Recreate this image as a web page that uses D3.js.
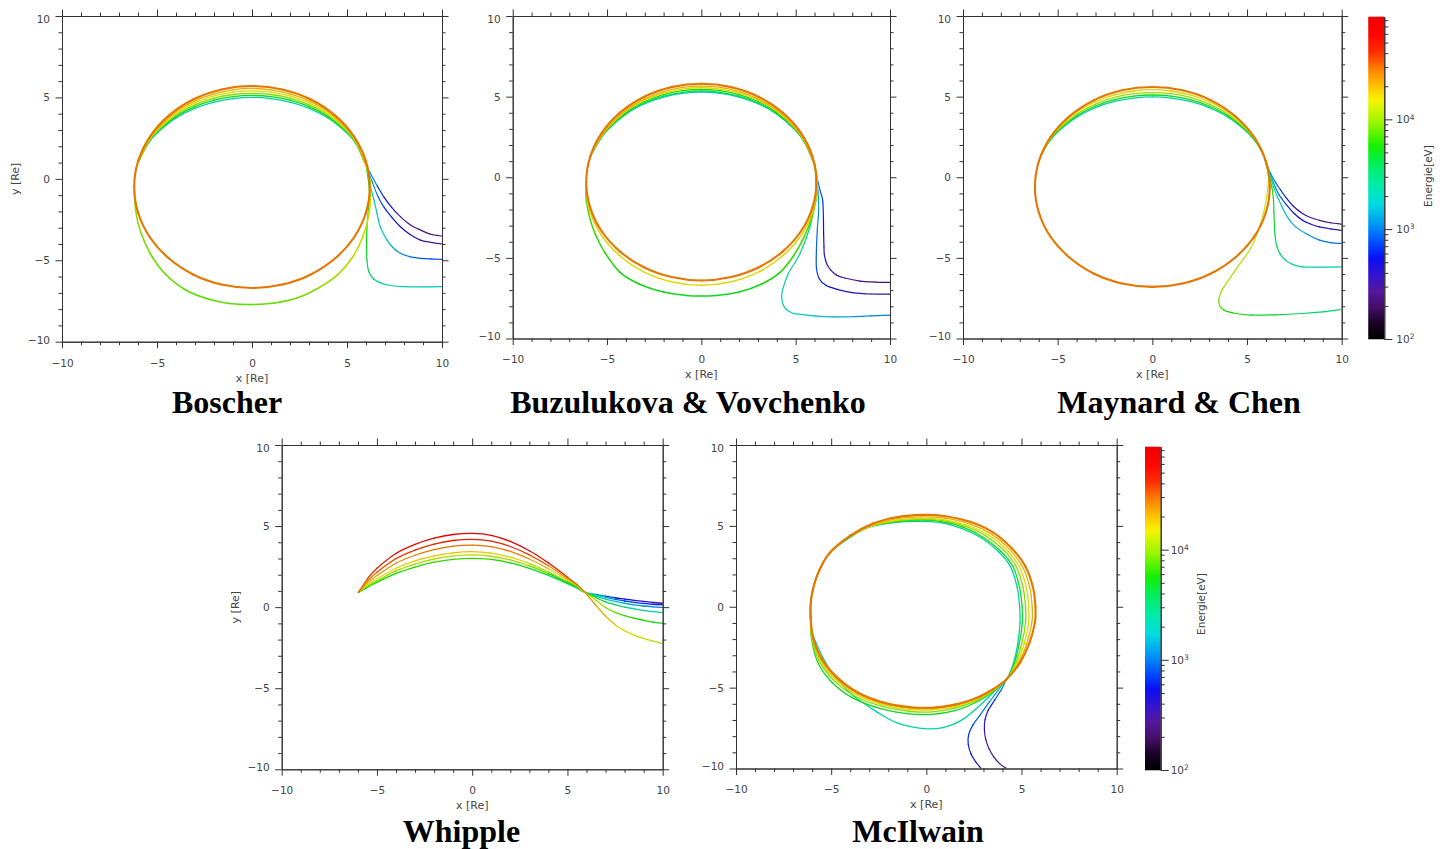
<!DOCTYPE html>
<html>
<head>
<meta charset="utf-8">
<script src="https://cdn.jsdelivr.net/npm/d3@7"></script>
<style>
  body { margin: 0; background: #fff; }
  svg { display: block; }
</style>
</head>
<body>
<svg id="fig" width="1445" height="849"></svg>
<script>
// ---------- shared axis values ----------
const majorTicks = [-10, -5, 0, 5, 10];
const minorTicks = [-9, -8, -7, -6, -4, -3, -2, -1, 1, 2, 3, 4, 6, 7, 8, 9];
const energyDecades = [100, 1000, 10000];
const energyMin = 100, energyMax = 86000;
const cmapStops  = [0, 0.05, 0.10, 0.15, 0.20, 0.25, 0.30, 0.36, 0.42, 0.48, 0.54, 0.60, 0.67, 0.74, 0.79, 0.84, 0.89, 0.94, 1.0];
const cmapColors = ['#000000', '#1c0428', '#46106a', '#5418a0', '#3414d0', '#0a10f4', '#0050ff', '#009cf4', '#00dce0',
                    '#00eca8', '#00ee60', '#18f000', '#98f600', '#f6f400', '#ffbc00', '#ff7c00', '#ff3000', '#ff0800', '#f00000'];

// ---------- Boscher ----------
const boscherLoop = [[6.20,-0.50],[5.99,1.10],[5.37,2.60],[4.38,3.88],[3.10,4.87],[1.60,5.49],[0,5.70],[-1.60,5.49],
  [-3.10,4.87],[-4.38,3.88],[-5.37,2.60],[-5.99,1.10],[-6.20,-0.50],[-5.99,-2.10],[-5.37,-3.60],[-4.38,-4.88],
  [-3.10,-5.87],[-1.60,-6.49],[0,-6.70],[1.60,-6.49],[3.10,-5.87],[4.38,-4.88],[5.37,-3.60],[5.99,-2.10],[6.20,-0.50]];
const boscherLoopEnergy = 28000;
const boscherArcX = [5.95, 5.5, 5, 4, 3, 2, 1, 0, -1, -2, -3, -4, -5, -5.5, -6.0];
const boscherArcY = [
  [0.95, 2.27, 3.06, 4.12, 4.79, 5.22, 5.47, 5.55, 5.47, 5.22, 4.79, 4.12, 3.06, 2.27, 1.0],
  [0.95, 2.23, 2.99, 4.01, 4.67, 5.09, 5.32, 5.40, 5.32, 5.09, 4.67, 4.01, 2.99, 2.23, 1.0],
  [0.95, 2.19, 2.93, 3.91, 4.54, 4.95, 5.18, 5.25, 5.18, 4.95, 4.54, 3.91, 2.93, 2.19, 1.0],
  [0.95, 2.15, 2.87, 3.82, 4.43, 4.83, 5.05, 5.12, 5.05, 4.83, 4.43, 3.82, 2.87, 2.15, 1.0],
  [0.95, 2.12, 2.81, 3.74, 4.33, 4.71, 4.93, 5.00, 4.93, 4.71, 4.33, 3.74, 2.81, 2.12, 1.0]];
const boscherArcEnergy = [20000, 15000, 9000, 5000, 2200];
const boscherOuter = [[-6.18,-0.8,12000],[-6.12,-2.0,10000],[-5.85,-3.3,9000],[-5.35,-4.6,8500],[-4.6,-5.8,8000],
  [-3.6,-6.75,7800],[-2.4,-7.35,7800],[-1.2,-7.65,7800],[0,-7.72,8000],[1.2,-7.62,8200],[2.4,-7.3,8500],[3.5,-6.7,9500],
  [4.5,-5.9,10500],[5.3,-4.8,12000],[5.85,-3.5,13000],[6.15,-2.2,14000],[6.25,-1.0,15000],[6.18,0.0,15000],[6.0,0.9,15000]];
const boscherTails = [
  [[10,-3.51,220],[9.4,-3.4,230],[8.86,-3.14,250],[8.3,-2.8,290],[7.81,-2.32,350],[7.35,-1.75,450],[6.93,-1.09,600],
   [6.55,-0.35,900],[6.2,0.4,1400],[6.0,0.9,1800]],
  [[10,-4.0,280],[9.4,-3.9,300],[8.86,-3.76,330],[8.3,-3.4,380],[7.81,-2.94,450],[7.35,-2.35,550],[6.93,-1.71,700],
   [6.6,-1.0,900],[6.3,-0.1,1300],[6.0,0.9,1800]],
  [[10,-4.94,700],[9.4,-4.92,750],[8.86,-4.88,850],[8.3,-4.78,1000],[7.81,-4.57,1200],[7.4,-4.2,1400],[7.1,-3.75,1600],
   [6.75,-2.94,1800],[6.58,-2.12,2000],[6.4,-1.2,2300],[6.23,-0.48,2600],[6.0,0.9,3000]],
  [[10,-6.62,1800],[9,-6.63,1900],[8,-6.62,2000],[7.3,-6.55,2300],[6.8,-6.4,2700],[6.4,-6.15,3200],[6.15,-5.7,3800],
   [6.05,-5.0,4500],[6.03,-4.0,5000],[6.05,-3.0,5200],[6.12,-1.9,5400],[6.18,-0.7,5600],[6.0,0.9,6000]]];

// ---------- Buzulukova & Vovchenko ----------
const buzLoop = [[6.10,-0.30],[5.89,1.28],[5.28,2.75],[4.31,4.01],[3.05,4.98],[1.58,5.59],[0,5.80],[-1.58,5.59],
  [-3.05,4.98],[-4.31,4.01],[-5.28,2.75],[-5.89,1.28],[-6.10,-0.30],[-5.89,-1.88],[-5.28,-3.35],[-4.31,-4.61],
  [-3.05,-5.58],[-1.58,-6.19],[0,-6.40],[1.58,-6.19],[3.05,-5.58],[4.31,-4.61],[5.28,-3.35],[5.89,-1.88],[6.10,-0.30]];
const buzLoopEnergy = 28000;
const buzArcX = [6.0, 5.5, 5, 4, 3, 2, 1, 0, -1, -2, -3, -4, -5, -5.5, -5.9];
const buzArcY = [
  [0.8, 2.19, 3.04, 4.16, 4.86, 5.31, 5.57, 5.65, 5.57, 5.31, 4.86, 4.16, 3.04, 2.19, 1.25],
  [0.8, 2.16, 3.00, 4.09, 4.78, 5.22, 5.47, 5.55, 5.47, 5.22, 4.78, 4.09, 3.00, 2.16, 1.25],
  [0.8, 2.14, 2.96, 4.02, 4.70, 5.13, 5.37, 5.45, 5.37, 5.13, 4.70, 4.02, 2.96, 2.14, 1.25],
  [0.8, 2.12, 2.92, 3.95, 4.61, 5.03, 5.27, 5.35, 5.27, 5.03, 4.61, 3.95, 2.92, 2.12, 1.25],
  [0.8, 2.10, 2.89, 3.91, 4.56, 4.97, 5.20, 5.28, 5.20, 4.97, 4.56, 3.91, 2.89, 2.10, 1.25]];
const buzArcEnergy = [20000, 15000, 6000, 3500, 2200];
const buzYellow = [[-6.12,-0.6,16000],[-5.94,-1.99,16000],[-5.33,-3.53,16000],[-4.35,-4.84,15500],[-3.08,-5.85,15000],
  [-1.59,-6.48,15000],[0,-6.70,15000],[1.59,-6.48,15000],[3.08,-5.85,15500],[4.35,-4.84,16000],[5.33,-3.53,16000],
  [5.94,-1.99,16500],[6.15,-0.35,17000],[6.02,0.7,17000]];
const buzGreen = [[-6.12,-0.5,8000],[-6.1,-1.42,7500],[-5.9,-2.6,7000],[-5.6,-3.6,6500],[-5.1,-4.7,6000],[-4.31,-5.9,5600],
  [-3.3,-6.62,5300],[-2.0,-7.12,5000],[-0.8,-7.33,5000],[0,-7.37,5000],[0.8,-7.33,5000],[2.0,-7.12,5200],[3.2,-6.62,5500],
  [4.17,-5.9,6000],[4.9,-4.85,6500],[5.45,-3.7,7000],[5.85,-2.5,7500],[6.08,-1.42,8000],[6.15,-0.5,8500],[6.02,0.7,9000]];
const buzTails = [
  [[10,-6.52,220],[9.2,-6.5,230],[8.41,-6.44,250],[7.6,-6.25,280],[7.17,-6.07,300],[6.85,-5.75,340],[6.64,-5.35,380],
   [6.52,-4.8,420],[6.5,-4.31,460],[6.48,-3.4,520],[6.47,-2.45,600],[6.43,-1.42,700],[6.29,-0.8,850],[6.08,0.24,1100],[6.0,0.8,1400]],
  [[10,-7.25,350],[9,-7.24,380],[8,-7.15,420],[7.2,-6.95,480],[6.6,-6.7,560],[6.25,-6.3,650],[6.1,-5.6,750],[6.1,-4.5,850],
   [6.15,-3.2,1000],[6.22,-2.0,1200],[6.18,-0.8,1500],[6.0,0.8,1900]],
  [[10,-8.55,1000],[9,-8.6,1100],[8,-8.65,1250],[7,-8.66,1400],[6,-8.6,1600],[5.3,-8.5,1800],[4.88,-8.45,1900],[4.5,-8.2,2000],
   [4.35,-7.93,2100],[4.26,-7.5,2200],[4.3,-7.0,2300],[4.61,-5.97,2500],[5.23,-4.73,2800],[5.76,-3.07,3100],[6.02,-1.42,3400],
   [6.08,-0.18,3600],[6.0,0.8,3800]]];

// ---------- Maynard & Chen ----------
const maynardLoop = [[6.20,-0.60],[5.99,1.00],[5.37,2.50],[4.38,3.78],[3.10,4.77],[1.60,5.39],[0,5.60],[-1.60,5.39],
  [-3.10,4.77],[-4.38,3.78],[-5.37,2.50],[-5.99,1.00],[-6.20,-0.60],[-5.99,-2.20],[-5.37,-3.70],[-4.38,-4.98],
  [-3.10,-5.97],[-1.60,-6.59],[0,-6.80],[1.60,-6.59],[3.10,-5.97],[4.38,-4.98],[5.37,-3.70],[5.99,-2.20],[6.20,-0.60]];
const maynardLoopEnergy = 28000;
const maynardArcX = [5.9, 5.5, 5, 4, 3, 2, 1, 0, -1, -2, -3, -4, -5, -5.5, -5.9];
const maynardArcY = [
  [1.31, 2.23, 3.00, 4.03, 4.69, 5.11, 5.35, 5.43, 5.35, 5.11, 4.69, 4.03, 3.00, 2.23, 1.31],
  [1.31, 2.19, 2.93, 3.91, 4.54, 4.95, 5.18, 5.25, 5.18, 4.95, 4.54, 3.91, 2.93, 2.19, 1.31],
  [1.31, 2.15, 2.86, 3.81, 4.42, 4.81, 5.03, 5.10, 5.03, 4.81, 4.42, 3.81, 2.86, 2.15, 1.31],
  [1.31, 2.13, 2.81, 3.73, 4.32, 4.70, 4.91, 4.98, 4.91, 4.70, 4.32, 3.73, 2.81, 2.13, 1.31]];
const maynardArcEnergy = [16000, 10000, 5000, 2400];
const maynardTails = [
  [[10,-2.91,220],[9.4,-2.82,230],[8.83,-2.67,250],[8.35,-2.5,280],[7.93,-2.25,320],[7.45,-1.8,400],[7.03,-1.22,550],
   [6.75,-0.75,750],[6.49,-0.29,1000],[6.2,0.35,1400],[5.95,1.1,1800]],
  [[10,-3.29,330],[9.4,-3.2,350],[8.83,-3.08,380],[8.35,-2.9,420],[7.93,-2.67,470],[7.45,-2.2,560],[7.03,-1.63,700],
   [6.7,-1.1,900],[6.49,-0.6,1100],[6.2,0.3,1500],[5.95,1.1,1900]],
  [[10,-4.11,900],[9.4,-4.05,950],[8.83,-3.9,1050],[8.2,-3.55,1200],[7.57,-3.08,1400],[7.15,-2.5,1700],[6.85,-1.84,2000],
   [6.6,-1.2,2300],[6.4,-0.6,2600],[6.15,0.4,3000],[5.95,1.1,3300]],
  [[10,-5.56,2000],[9,-5.57,2200],[7.93,-5.56,2500],[7.4,-5.4,2800],[7.03,-5.14,3100],[6.75,-4.75,3500],[6.58,-4.32,3900],
   [6.48,-3.6,4300],[6.45,-3.08,4600],[6.42,-2.2,5000],[6.4,-1.43,5300],[6.31,-0.6,5600],[6.1,0.4,6000],[5.95,1.1,6300]],
  [[10,-8.2,3000],[9,-8.35,3300],[7.93,-8.45,3800],[6.5,-8.53,4300],[5.23,-8.55,4800],[4.4,-8.45,5500],[3.78,-8.24,6500],
   [3.55,-7.95,7500],[3.51,-7.62,8500],[3.6,-7.2,9500],[3.78,-6.8,10500],[4.5,-5.56,12000],[5.23,-4.32,13000],
   [5.77,-2.67,14000],[6.04,-1.22,15000],[6.13,0.02,16000],[5.95,1.1,17000]]];

// ---------- Whipple ----------
const whippleX = [-5.97, -5.5, -5, -4, -3, -2, -1, 0, 1, 2, 3, 4, 5, 5.5, 5.92, 6.5, 7, 7.5, 8, 8.5, 9, 9.5, 10];
const whippleY = [
  [0.91, 1.75, 2.40, 3.31, 3.87, 4.25, 4.48, 4.55, 4.43, 4.06, 3.48, 2.73, 1.85, 1.39, 0.91, 0.10, -0.55, -1.08, -1.45, -1.72, -1.93, -2.10, -2.25],
  [0.91, 1.60, 2.15, 2.99, 3.52, 3.89, 4.11, 4.18, 4.07, 3.74, 3.22, 2.55, 1.76, 1.34, 0.91, 0.42, -0.02, -0.32, -0.52, -0.68, -0.82, -0.92, -1.00],
  [0.91, 1.47, 1.95, 2.71, 3.20, 3.55, 3.76, 3.83, 3.73, 3.44, 2.97, 2.37, 1.67, 1.29, 0.91, 0.58, 0.33, 0.15, 0.00, -0.10, -0.20, -0.28, -0.34],
  [0.91, 1.35, 1.75, 2.40, 2.85, 3.16, 3.35, 3.42, 3.33, 3.08, 2.68, 2.17, 1.56, 1.24, 0.91, 0.66, 0.50, 0.36, 0.24, 0.14, 0.07, 0.02, -0.02],
  [0.91, 1.28, 1.62, 2.24, 2.66, 2.97, 3.16, 3.22, 3.14, 2.91, 2.54, 2.07, 1.51, 1.21, 0.91, 0.74, 0.60, 0.48, 0.38, 0.30, 0.23, 0.18, 0.15],
  [0.91, 1.22, 1.53, 2.08, 2.47, 2.77, 2.95, 3.01, 2.94, 2.73, 2.39, 1.96, 1.45, 1.18, 0.91, 0.78, 0.68, 0.58, 0.50, 0.42, 0.35, 0.29, 0.24]];
const whippleE = [
  [28000, 35000, 42000, 52000, 60000, 66000, 70000, 72000, 70000, 66000, 58000, 48000, 36000, 31000, 27000, 22000, 19000, 17000, 15000, 14000, 13000, 12000, 11000],
  [22000, 26000, 30000, 36000, 40000, 43000, 45000, 46000, 45000, 42000, 37000, 30000, 22000, 18000, 15000, 11000, 9000, 7500, 6500, 6000, 5500, 5200, 5000],
  [16000, 19000, 22000, 25000, 27000, 28500, 29000, 29000, 28500, 27000, 24000, 19000, 13000, 10000, 8000, 5500, 4200, 3500, 3000, 2700, 2400, 2200, 2000],
  [11000, 13000, 14000, 15500, 16500, 17000, 17000, 17000, 16500, 15500, 13500, 10000, 7000, 5500, 4500, 3000, 2200, 1800, 1500, 1300, 1200, 1100, 1000],
  [7000, 8000, 9000, 10000, 11000, 11500, 12000, 12000, 11500, 10500, 9000, 7000, 5000, 4000, 3200, 2000, 1400, 1000, 800, 700, 620, 570, 540],
  [4500, 5000, 5500, 6000, 6300, 6500, 6500, 6500, 6300, 6000, 5500, 4500, 3500, 2800, 2300, 1400, 900, 650, 500, 420, 380, 350, 330]];

// ---------- McIlwain ----------
const mcilwainLoops = [
  [[4.2,-4.5],[4.9,-3.5],[5.4,-2.3],[5.7,-1.0],[5.73,0],[5.6,1.2],[5.2,2.5],[4.5,3.6],[3.5,4.6],[2.3,5.25],[1.0,5.6],[-0.2,5.68],
   [-1.5,5.55],[-2.8,5.15],[-4.0,4.4],[-5.1,3.3],[-5.75,1.9],[-6.05,0.5],[-6.08,-0.6],[-5.95,-1.9],[-5.5,-3.2],[-4.7,-4.35],
   [-3.6,-5.3],[-2.3,-5.9],[-0.9,-6.2],[0.3,-6.24],[1.5,-6.05],[2.6,-5.65],[3.5,-5.1],[4.2,-4.5]],
  [[4.2,-4.5],[4.83,-3.5],[5.27,-2.3],[5.54,-1.0],[5.56,0],[5.43,1.2],[5.04,2.5],[4.35,3.58],[3.38,4.52],[2.22,5.14],[0.95,5.48],
   [-0.25,5.56],[-1.5,5.45],[-2.8,5.08],[-4.0,4.38],[-5.1,3.3],[-5.75,1.9],[-6.05,0.5],[-6.08,-0.6],[-5.97,-1.9],[-5.55,-3.22],
   [-4.75,-4.4],[-3.65,-5.35],[-2.3,-5.97],[-0.9,-6.27],[0.3,-6.3],[1.5,-6.1],[2.6,-5.7],[3.5,-5.13],[4.2,-4.5]],
  [[4.2,-4.5],[4.76,-3.5],[5.14,-2.3],[5.37,-1.0],[5.38,0],[5.25,1.2],[4.87,2.5],[4.2,3.55],[3.25,4.45],[2.12,5.05],[0.9,5.38],
   [-0.3,5.46],[-1.55,5.36],[-2.85,5.02],[-4.0,4.36],[-5.1,3.3],[-5.75,1.9],[-6.05,0.5],[-6.08,-0.6],[-6.0,-1.9],[-5.6,-3.25],
   [-4.8,-4.45],[-3.7,-5.42],[-2.3,-6.05],[-0.9,-6.35],[0.3,-6.38],[1.5,-6.17],[2.6,-5.75],[3.5,-5.16],[4.2,-4.5]],
  [[4.2,-4.5],[4.69,-3.5],[5.01,-2.3],[5.21,-1.0],[5.21,0],[5.08,1.2],[4.71,2.5],[4.06,3.5],[3.12,4.38],[2.02,4.98],[0.85,5.32],
   [-0.35,5.4],[-1.6,5.3],[-2.9,4.98],[-4.0,4.34],[-5.1,3.3],[-5.75,1.9],[-6.05,0.5],[-6.08,-0.6],[-6.02,-1.9],[-5.65,-3.3],
   [-4.88,-4.52],[-3.78,-5.5],[-2.35,-6.15],[-0.9,-6.46],[0.3,-6.5],[1.5,-6.27],[2.6,-5.82],[3.5,-5.2],[4.2,-4.5]],
  [[4.2,-4.5],[4.62,-3.5],[4.88,-2.3],[5.04,-1.0],[5.03,0],[4.9,1.2],[4.54,2.5],[3.9,3.45],[2.98,4.3],[1.92,4.92],[0.8,5.27],
   [-0.4,5.35],[-1.65,5.25],[-2.95,4.95],[-4.0,4.32],[-5.1,3.3],[-5.75,1.9],[-6.05,0.5],[-6.08,-0.6],[-6.04,-1.9],[-5.72,-3.4],
   [-5.0,-4.62],[-3.9,-5.62],[-2.4,-6.3],[-0.9,-6.62],[0.3,-6.65],[1.5,-6.42],[2.6,-5.92],[3.5,-5.25],[4.2,-4.5]],
  [[4.2,-4.5],[4.57,-3.5],[4.8,-2.3],[4.92,-1.0],[4.9,0],[4.77,1.2],[4.41,2.5],[3.8,3.4],[2.9,4.25],[1.85,4.85],[0.75,5.2],
   [-0.45,5.28],[-1.7,5.2],[-3.0,4.92],[-4.0,4.3],[-5.1,3.3],[-5.75,1.9],[-6.05,0.5],[-6.06,-1.2],[-5.77,-2.3],[-5.07,-3.88],
   [-4.02,-5.32],[-3.3,-5.95],[-2.6,-6.5],[-1.57,-7.16],[-0.17,-7.53],[0.87,-7.47],[1.92,-6.96],[2.97,-5.93],[3.6,-5.2],[4.2,-4.5]]];
const mcilwainLoopEnergy = [28000, 20000, 15000, 9000, 5000, 2400];
const mcilwainTails = [
  [[4.2,-4.5,2000],[3.75,-5.2,1500],[3.3,-5.9,1100],[2.85,-6.65,900],[2.45,-7.3,750],[2.22,-7.9,650],[2.2,-8.5,600],
   [2.35,-9.1,560],[2.6,-9.6,540],[2.88,-10,520]],
  [[4.2,-4.5,1200],[3.95,-5.1,900],[3.6,-5.75,650],[3.25,-6.4,500],[3.08,-7.0,400],[3.05,-7.6,330],[3.12,-8.2,290],
   [3.3,-8.8,260],[3.55,-9.3,240],[3.85,-9.7,230],[4.2,-10,220]]];

// ---------- panel layout ----------
const panels = [
  { key: 'boscher',  title: 'Boscher',                L: 62,    R: 442,    T: 16,  B: 341.7, tx: 227,  ty: 413, yTitle: true },
  { key: 'buz',      title: 'Buzulukova & Vovchenko', L: 512.7, R: 890,    T: 16,  B: 338.5, tx: 688,  ty: 413 },
  { key: 'maynard',  title: 'Maynard & Chen',         L: 963,   R: 1341.7, T: 16,  B: 338.5, tx: 1179, ty: 413,
    cbar: { L: 1368.3, R: 1384.3, T: 16.7, B: 339, labelDx: 12, titleX: 1428, titleY: 176 } },
  { key: 'whipple',  title: 'Whipple',                L: 281.7, R: 662.7,  T: 445, B: 769.3, tx: 461.5, ty: 842, yTitle: true },
  { key: 'mcilwain', title: 'McIlwain',               L: 736,   R: 1116.7, T: 445, B: 768.5, tx: 918,  ty: 842,
    cbar: { L: 1145, R: 1160.7, T: 446.7, B: 770, labelDx: 10, titleX: 1201, titleY: 604 } }
];

// ---------- colour mapping ----------
const eScale = d3.scaleLog().domain([energyMin, energyMax]).range([0, 1]).clamp(true);
const cmap = d3.scaleLinear().domain(cmapStops).range(cmapColors).clamp(true);
const lineColor = e => d3.color(cmap(eScale(e))).darker(0.3).formatHex();

const svg = d3.select('#fig');
const defs = svg.append('defs');
const fmt = d3.format('d');
const AXIS_FONT = "'DejaVu Sans', 'Liberation Sans', sans-serif";

const withEnergy = (pts, e) => pts.map(p => [p[0], p[1], e]);
const rowsToTracks = (xs, ys, es) => ys.map((row, k) => xs.map((x, i) => [x, row[i], es[k]]));

// Catmull-Rom segments, each stroked with the energy of its end points
function drawTrack(g, pts, x, y, width) {
  const P = pts.map(p => [x(p[0]), y(p[1]), p[2]]);
  const n = P.length;
  const closed = n > 3 && pts[0][0] === pts[n - 1][0] && pts[0][1] === pts[n - 1][1];
  const m = n - 1;
  const at = i => closed ? P[((i % m) + m) % m] : P[Math.max(0, Math.min(n - 1, i))];
  for (let i = 0; i < n - 1; i++) {
    const p0 = at(i - 1), p1 = P[i], p2 = P[i + 1], p3 = at(i + 2);
    const c1x = p1[0] + (p2[0] - p0[0]) / 6, c1y = p1[1] + (p2[1] - p0[1]) / 6;
    const c2x = p2[0] - (p3[0] - p1[0]) / 6, c2y = p2[1] - (p3[1] - p1[1]) / 6;
    g.append('path')
      .attr('d', `M${p1[0]},${p1[1]}C${c1x},${c1y},${c2x},${c2y},${p2[0]},${p2[1]}`)
      .attr('fill', 'none')
      .attr('stroke', lineColor(Math.sqrt(p1[2] * p2[2])))
      .attr('stroke-width', width)
      .attr('stroke-linecap', 'round');
  }
}

function styleAxis(sel) {
  sel.attr('font-family', AXIS_FONT).attr('font-size', 10.5);
  sel.selectAll('path.domain').attr('stroke', '#333').attr('stroke-width', 1);
  sel.selectAll('.tick line').attr('stroke', '#333').attr('stroke-width', 1);
  sel.selectAll('.tick text').attr('fill', '#444');
}

function drawFrame(g, spec, x, y) {
  const horiz = [[d3.axisBottom, spec.B, true], [d3.axisTop, spec.T, false]];
  horiz.forEach(([fn, pos, labelled]) => {
    g.append('g').attr('transform', `translate(0,${pos})`)
      .call(fn(x).tickValues(minorTicks).tickSize(3.5).tickSizeOuter(0).tickFormat(''))
      .call(styleAxis);
    g.append('g').attr('transform', `translate(0,${pos})`)
      .call(fn(x).tickValues(majorTicks).tickSize(6.5).tickSizeOuter(0).tickPadding(10.9)
        .tickFormat(labelled ? fmt : ''))
      .call(styleAxis);
  });
  const vert = [[d3.axisLeft, spec.L, true], [d3.axisRight, spec.R, false]];
  vert.forEach(([fn, pos, labelled]) => {
    g.append('g').attr('transform', `translate(${pos},0)`)
      .call(fn(y).tickValues(minorTicks).tickSize(3.5).tickSizeOuter(0).tickFormat(''))
      .call(styleAxis);
    const ax = g.append('g').attr('transform', `translate(${pos},0)`)
      .call(fn(y).tickValues(majorTicks).tickSize(6.5).tickSizeOuter(0).tickPadding(5.5)
        .tickFormat(labelled ? fmt : ''))
      .call(styleAxis);
    if (labelled) {
      // end labels sit just inside the frame
      ax.selectAll('.tick text').attr('transform', d => d === 10 ? 'translate(0,3.5)' : d === -10 ? 'translate(0,-2)' : null);
    }
  });

  g.append('text')
    .attr('x', (spec.L + spec.R) / 2).attr('y', spec.B + 36).attr('dy', '0.35em')
    .attr('text-anchor', 'middle').attr('font-family', AXIS_FONT).attr('font-size', 11)
    .attr('fill', '#444').text('x [Re]');
  if (spec.yTitle) {
    g.append('text')
      .attr('transform', `translate(${spec.L - 47},${y(0)}) rotate(-90)`)
      .attr('dy', '0.35em').attr('text-anchor', 'middle')
      .attr('font-family', AXIS_FONT).attr('font-size', 11).attr('fill', '#444').text('y [Re]');
  }

  svg.append('text')
    .attr('x', spec.tx).attr('y', spec.ty).attr('text-anchor', 'middle')
    .attr('font-family', "'Liberation Serif', 'Times New Roman', serif")
    .attr('font-weight', 'bold').attr('font-size', 32).attr('fill', '#000')
    .text(spec.title);
}

function drawColorbar(cb) {
  const g = svg.append('g');
  const ey = d3.scaleLog().domain([energyMin, energyMax]).range([cb.B, cb.T]);
  for (let py = cb.T; py < cb.B; py += 1) {
    const h = Math.min(1.2, cb.B - py);
    g.append('rect').attr('x', cb.L).attr('y', py).attr('width', cb.R - cb.L).attr('height', h + 0.2)
      .attr('fill', cmap(eScale(ey.invert(py + 0.5))));
  }
  const minors = ey.ticks().filter(v => !energyDecades.includes(v));
  g.append('g').attr('transform', `translate(${cb.R},0)`)
    .call(d3.axisRight(ey).tickValues(minors).tickSize(4).tickSizeOuter(0).tickFormat(''))
    .call(styleAxis);
  g.append('g').attr('transform', `translate(${cb.R},0)`)
    .call(d3.axisRight(ey).tickValues(energyDecades).tickSize(8).tickSizeOuter(0).tickFormat(''))
    .call(styleAxis);
  energyDecades.forEach(v => {
    const t = g.append('text').attr('x', cb.R + cb.labelDx).attr('y', ey(v)).attr('dy', '0.38em')
      .attr('font-family', AXIS_FONT).attr('font-size', 10.5).attr('fill', '#444');
    t.append('tspan').text('10');
    t.append('tspan').attr('dy', '-0.5em').attr('font-size', 7.5).text(String(Math.round(Math.log10(v))));
  });
  g.append('text')
    .attr('transform', `translate(${cb.titleX},${cb.titleY}) rotate(-90)`)
    .attr('dy', '0.35em').attr('text-anchor', 'middle')
    .attr('font-family', AXIS_FONT).attr('font-size', 10.5).attr('fill', '#444').text('Energie[eV]');
}

function drawPanel(spec, layers) {
  const x = d3.scaleLinear().domain([-10, 10]).range([spec.L, spec.R]);
  const y = d3.scaleLinear().domain([-10, 10]).range([spec.B, spec.T]);
  const clipId = 'clip-' + spec.key;
  defs.append('clipPath').attr('id', clipId).append('rect')
    .attr('x', spec.L).attr('y', spec.T).attr('width', spec.R - spec.L).attr('height', spec.B - spec.T);
  const g = svg.append('g');
  const lines = g.append('g').attr('clip-path', `url(#${clipId})`);
  layers.forEach(layer => layer.tracks.forEach(tr => drawTrack(lines, tr, x, y, layer.width)));
  drawFrame(g, spec, x, y);
  if (spec.cbar) drawColorbar(spec.cbar);
}

// ---------- draw ----------
drawPanel(panels[0], [
  { tracks: boscherTails, width: 1.2 },
  { tracks: rowsToTracks(boscherArcX, boscherArcY, boscherArcEnergy).reverse(), width: 1.3 },
  { tracks: [boscherOuter], width: 1.6 },
  { tracks: [withEnergy(boscherLoop, boscherLoopEnergy)], width: 2.1 }
]);

drawPanel(panels[1], [
  { tracks: buzTails, width: 1.2 },
  { tracks: rowsToTracks(buzArcX, buzArcY, buzArcEnergy).reverse(), width: 1.3 },
  { tracks: [buzGreen, buzYellow], width: 1.5 },
  { tracks: [withEnergy(buzLoop, buzLoopEnergy)], width: 2.1 }
]);

drawPanel(panels[2], [
  { tracks: maynardTails, width: 1.2 },
  { tracks: rowsToTracks(maynardArcX, maynardArcY, maynardArcEnergy).reverse(), width: 1.3 },
  { tracks: [withEnergy(maynardLoop, maynardLoopEnergy)], width: 2.1 }
]);

drawPanel(panels[3], [
  { tracks: whippleY.map((row, k) => d3.zip(whippleX, row, whippleE[k])).reverse(), width: 1.3 }
]);

drawPanel(panels[4], [
  { tracks: mcilwainTails, width: 1.2 },
  { tracks: mcilwainLoops.slice(1).map((l, k) => withEnergy(l, mcilwainLoopEnergy[k + 1])).reverse(), width: 1.3 },
  { tracks: [withEnergy(mcilwainLoops[0], mcilwainLoopEnergy[0])], width: 2.1 }
]);
</script>
</body>
</html>
